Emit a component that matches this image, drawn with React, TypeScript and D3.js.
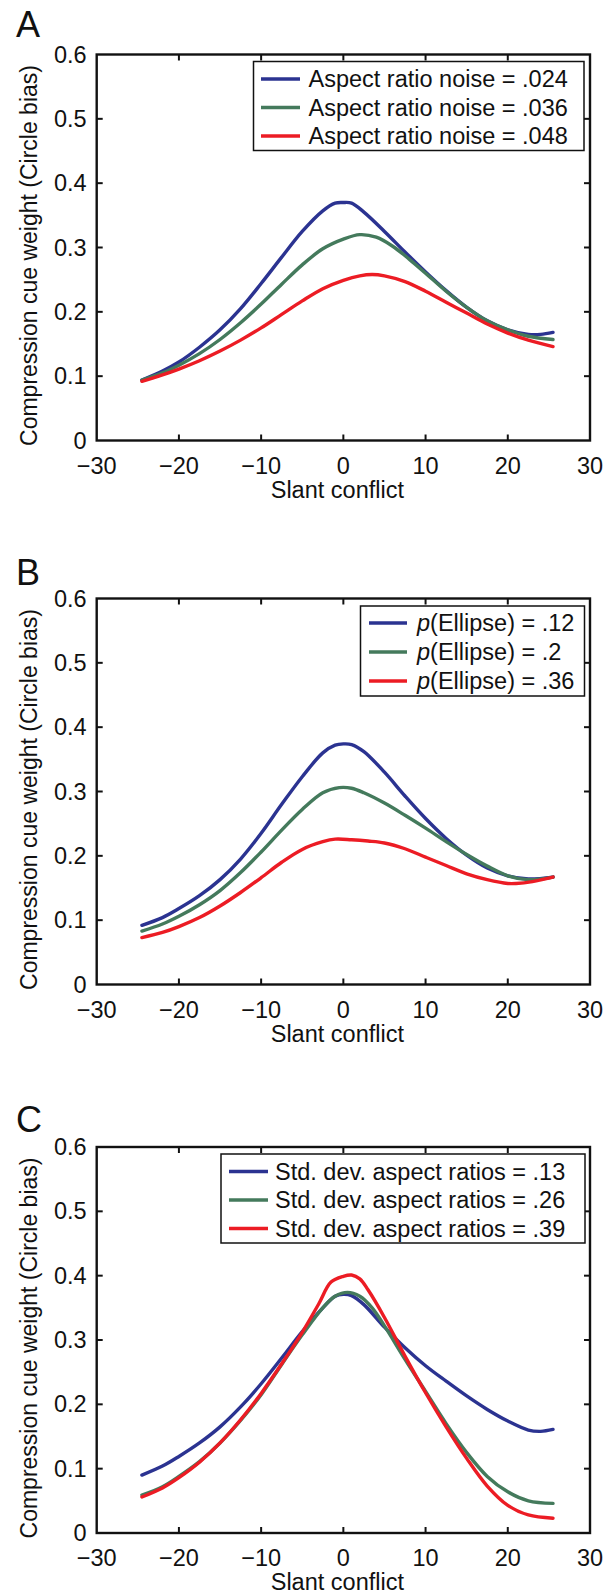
import React from "react";
import * as d3 from "d3";

// ---------- data ----------
const xTicks = [-30, -20, -10, 0, 10, 20, 30];
const yTicks = [0, 0.1, 0.2, 0.3, 0.4, 0.5, 0.6];
const xLabel = "Slant conflict";
const yLabel = "Compression cue weight (Circle bias)";

// Panel A
const aLegend = ["Aspect ratio noise = .024", "Aspect ratio noise = .036", "Aspect ratio noise = .048"];
const aBlue: [number, number][] = [
  [-24.5, 0.094], [-22, 0.108], [-20, 0.122], [-17.5, 0.145], [-15, 0.172], [-12.5, 0.205], [-10, 0.244],
  [-7.5, 0.285], [-5, 0.325], [-2.5, 0.357], [-1, 0.369], [0, 0.37], [1, 0.369], [2.5, 0.355], [5, 0.325],
  [7.5, 0.293], [10, 0.262], [12.5, 0.233], [15, 0.207], [17.5, 0.186], [20, 0.172], [22.5, 0.165], [24, 0.165], [25.5, 0.168],
];
const aGreen: [number, number][] = [
  [-24.5, 0.094], [-22, 0.105], [-20, 0.117], [-17.5, 0.135], [-15, 0.157], [-12.5, 0.183], [-10, 0.212],
  [-7.5, 0.243], [-5, 0.273], [-2.5, 0.298], [0, 0.313], [2, 0.32], [4, 0.316], [6, 0.302], [8, 0.282],
  [10, 0.26], [12.5, 0.232], [15, 0.207], [17.5, 0.186], [20, 0.172], [22.5, 0.162], [25.5, 0.157],
];
const aRed: [number, number][] = [
  [-24.5, 0.092], [-22, 0.102], [-20, 0.111], [-17.5, 0.124], [-15, 0.139], [-12.5, 0.156], [-10, 0.175],
  [-7.5, 0.196], [-5, 0.217], [-2.5, 0.236], [0, 0.249], [2, 0.256], [3.5, 0.258], [5, 0.256], [7.5, 0.247],
  [10, 0.232], [12.5, 0.215], [15, 0.198], [17.5, 0.181], [20, 0.167], [22.5, 0.156], [25.5, 0.146],
];

// Panel B
const bLegendValues = [".12", ".2", ".36"];
const bBlue: [number, number][] = [
  [-24.5, 0.092], [-22, 0.104], [-20, 0.118], [-17.5, 0.138], [-15, 0.163], [-12.5, 0.195], [-10, 0.235],
  [-7.5, 0.28], [-5, 0.323], [-2.5, 0.36], [-1, 0.372], [0, 0.374], [1, 0.373], [2.5, 0.362], [5, 0.33],
  [7.5, 0.293], [10, 0.258], [12.5, 0.227], [15, 0.201], [17.5, 0.181], [20, 0.169], [22.5, 0.164], [25.5, 0.167],
];
const bGreen: [number, number][] = [
  [-24.5, 0.083], [-22, 0.094], [-20, 0.106], [-17.5, 0.124], [-15, 0.146], [-12.5, 0.174], [-10, 0.206],
  [-7.5, 0.24], [-5, 0.272], [-2.5, 0.298], [-0.5, 0.306], [1, 0.305], [2.5, 0.298], [5, 0.282], [7.5, 0.263],
  [10, 0.243], [12.5, 0.222], [15, 0.202], [17.5, 0.184], [20, 0.169], [22.5, 0.163], [25.5, 0.167],
];
const bRed: [number, number][] = [
  [-24.5, 0.073], [-22, 0.081], [-20, 0.09], [-17.5, 0.104], [-15, 0.122], [-12.5, 0.143], [-10, 0.166],
  [-7.5, 0.19], [-5, 0.21], [-2.5, 0.222], [-1, 0.226], [1, 0.225], [3, 0.223], [5, 0.22], [7.5, 0.211],
  [10, 0.198], [12.5, 0.185], [15, 0.172], [17.5, 0.163], [20, 0.157], [21, 0.157], [23, 0.16], [25.5, 0.167],
];

// Panel C
const cLegend = ["Std. dev. aspect ratios = .13", "Std. dev. aspect ratios = .26", "Std. dev. aspect ratios = .39"];
const cBlue: [number, number][] = [
  [-24.5, 0.09], [-22, 0.104], [-20, 0.119], [-17.5, 0.14], [-15, 0.165], [-12.5, 0.196], [-10, 0.232],
  [-7.5, 0.272], [-5, 0.313], [-2.5, 0.35], [-1, 0.368], [0, 0.371], [1, 0.369], [2.5, 0.355], [5, 0.32],
  [7.5, 0.288], [10, 0.26], [12.5, 0.236], [15, 0.213], [17.5, 0.192], [20, 0.174], [22.5, 0.16], [24, 0.158], [25.5, 0.161],
];
const cGreen: [number, number][] = [
  [-24.5, 0.059], [-22, 0.072], [-20, 0.088], [-17.5, 0.111], [-15, 0.14], [-12.5, 0.175], [-10, 0.215],
  [-7.5, 0.262], [-5, 0.308], [-2.5, 0.35], [-1, 0.368], [0.5, 0.374], [2, 0.368], [3.5, 0.35], [5, 0.322],
  [7.5, 0.27], [10, 0.22], [12.5, 0.17], [15, 0.125], [17.5, 0.088], [20, 0.064], [22.5, 0.05], [25.5, 0.046],
];
const cRed: [number, number][] = [
  [-24.5, 0.056], [-22, 0.07], [-20, 0.086], [-17.5, 0.11], [-15, 0.14], [-12.5, 0.176], [-10, 0.217],
  [-7.5, 0.263], [-5, 0.312], [-3, 0.356], [-1.5, 0.39], [0, 0.399], [1, 0.401], [2, 0.395], [3, 0.378],
  [5, 0.335], [7.5, 0.275], [10, 0.218], [12.5, 0.165], [15, 0.116], [17.5, 0.073], [20, 0.043], [22.5, 0.028], [25.5, 0.023],
];

const COLORS = ["#2B3391", "#447A5C", "#EC1C24"];
const FONT = "'Liberation Sans', Arial, Helvetica, sans-serif";

const LEFT = 96.7;
const RIGHT = 590;
const PH = 386;

type Panel = {
  letter: string;
  top: number;
  letterY: number;
  series: [number, number][][];
  legend: React.ReactNode[];
  legendBox: { x: number; y: number; w: number; h: number };
  legendLineX: [number, number];
  legendTextX: number;
  legendRowY: number[];
};

const panels: Panel[] = [
  {
    letter: "A", top: 54.5, letterY: 37,
    series: [aBlue, aGreen, aRed],
    legend: aLegend.map((t) => t),
    legendBox: { x: 253.5, y: 61.5, w: 330.5, h: 89 },
    legendLineX: [261, 300], legendTextX: 308.5, legendRowY: [79, 107.5, 136],
  },
  {
    letter: "B", top: 598.5, letterY: 585,
    series: [bBlue, bGreen, bRed],
    legend: bLegendValues.map((v) => (
      <>
        <tspan fontStyle="italic">p</tspan>
        <tspan>(Ellipse) = {v}</tspan>
      </>
    )),
    legendBox: { x: 360.5, y: 606, w: 224, h: 90 },
    legendLineX: [369, 407], legendTextX: 417, legendRowY: [623, 652, 681],
  },
  {
    letter: "C", top: 1147, letterY: 1132,
    series: [cBlue, cGreen, cRed],
    legend: cLegend.map((t) => t),
    legendBox: { x: 221, y: 1154, w: 364, h: 89 },
    legendLineX: [229, 268], legendTextX: 275, legendRowY: [1171.5, 1200, 1228.5],
  },
];

function PanelView({ p }: { p: Panel }) {
  const x = d3.scaleLinear().domain([-30, 30]).range([LEFT, RIGHT]);
  const y = d3.scaleLinear().domain([0, 0.6]).range([p.top + PH, p.top]);
  const line = d3
    .line<[number, number]>()
    .x((d) => x(d[0]))
    .y((d) => y(d[1]))
    .curve(d3.curveCatmullRom.alpha(0.5));
  const bottom = p.top + PH;
  const tl = 6;
  const fmtX = (v: number) => (v < 0 ? "\u2212" + Math.abs(v) : String(v));
  const fmtY = (v: number) => (v === 0 ? "0" : d3.format(".1f")(v));
  return (
    <g fontFamily={FONT} fill="#111">
      <text x={16} y={p.letterY} fontSize={36}>{p.letter}</text>
      {p.series.map((s, i) => (
        <path key={i} d={line(s) || ""} fill="none" stroke={COLORS[i]} strokeWidth={3.4} strokeLinejoin="round" strokeLinecap="round" />
      ))}
      {xTicks.slice(1, -1).map((t) => (
        <g key={"xt" + t} stroke="#111" strokeWidth={2}>
          <line x1={x(t)} x2={x(t)} y1={bottom} y2={bottom - tl} />
          <line x1={x(t)} x2={x(t)} y1={p.top} y2={p.top + tl} />
        </g>
      ))}
      {yTicks.slice(1, -1).map((t) => (
        <g key={"yt" + t} stroke="#111" strokeWidth={2}>
          <line x1={LEFT} x2={LEFT + tl} y1={y(t)} y2={y(t)} />
          <line x1={RIGHT} x2={RIGHT - tl} y1={y(t)} y2={y(t)} />
        </g>
      ))}
      <rect x={LEFT} y={p.top} width={RIGHT - LEFT} height={PH} fill="none" stroke="#111" strokeWidth={2.4} />
      {xTicks.map((t) => (
        <text key={"xl" + t} x={x(t)} y={bottom + 33} fontSize={23.5} textAnchor="middle">{fmtX(t)}</text>
      ))}
      {yTicks.map((t) => (
        <text key={"yl" + t} x={LEFT - 10} y={y(t) + 8} fontSize={23.5} textAnchor="end">{fmtY(t)}</text>
      ))}
      <text x={(LEFT + RIGHT) / 2 - 6} y={bottom + 57} fontSize={23.5} textAnchor="middle">{xLabel}</text>
      <text transform={`translate(37,${p.top + PH / 2 + 8}) rotate(-90)`} fontSize={23} textAnchor="middle">{yLabel}</text>
      <rect x={p.legendBox.x} y={p.legendBox.y} width={p.legendBox.w} height={p.legendBox.h} fill="#fff" stroke="#111" strokeWidth={1.5} />
      {p.legend.map((l, i) => (
        <g key={"lg" + i}>
          <line x1={p.legendLineX[0]} x2={p.legendLineX[1]} y1={p.legendRowY[i]} y2={p.legendRowY[i]} stroke={COLORS[i]} strokeWidth={3.6} />
          <text x={p.legendTextX} y={p.legendRowY[i] + 8.3} fontSize={23.5}>{l}</text>
        </g>
      ))}
    </g>
  );
}

export default function App() {
  return (
    <svg width={615} height={1592} style={{ position: "absolute", left: 0, top: 0, background: "#fff" }}>
      <rect width={615} height={1592} fill="#fff" />
      {panels.map((p) => (
        <PanelView key={p.letter} p={p} />
      ))}
    </svg>
  );
}
